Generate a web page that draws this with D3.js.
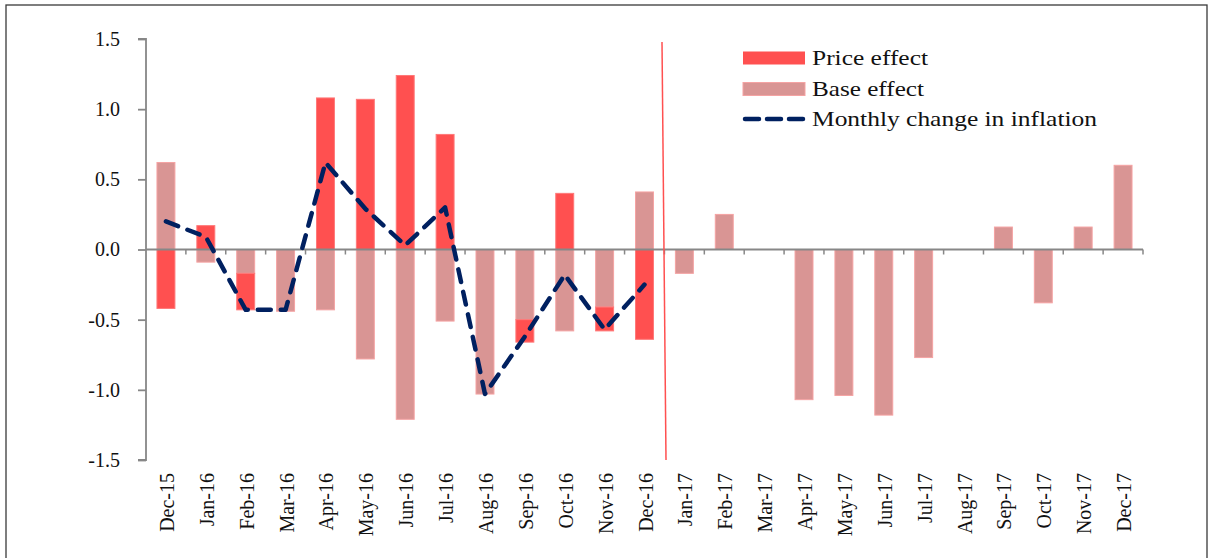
<!DOCTYPE html>
<html>
<head>
<meta charset="utf-8">
<script src="https://cdn.jsdelivr.net/npm/d3@7"></script>
<style>
  html, body { margin: 0; padding: 0; background: #fff; }
  svg { display: block; font-family: "Liberation Serif", "Times New Roman", serif; }
</style>
</head>
<body>
<svg id="chart" width="1210" height="558"></svg>
<script>
const categories = ["Dec-15","Jan-16","Feb-16","Mar-16","Apr-16","May-16","Jun-16","Jul-16","Aug-16","Sep-16","Oct-16","Nov-16","Dec-16",
  "Jan-17","Feb-17","Mar-17","Apr-17","May-17","Jun-17","Jul-17","Aug-17","Sep-17","Oct-17","Nov-17","Dec-17"];
const priceEffect = [-0.42, 0.17, -0.26, 0, 1.08, 1.07, 1.24, 0.82, 0, -0.16, 0.40, -0.17, -0.64,
  0, 0, 0, 0, 0, 0, 0, 0, 0, 0, 0, 0];
const baseEffect = [0.62, -0.09, -0.17, -0.44, -0.43, -0.78, -1.21, -0.51, -1.03, -0.50, -0.58, -0.41, 0.41,
  -0.17, 0.25, 0, -1.07, -1.04, -1.18, -0.77, 0, 0.16, -0.38, 0.16, 0.60];
const monthlyChange = [0.20, 0.09, -0.43, -0.43, 0.62, 0.29, 0.03, 0.30, -1.03, -0.62, -0.18, -0.57, -0.25];
const yTicks = [1.5, 1.0, 0.5, 0.0, -0.5, -1.0, -1.5];
const legendLabels = ["Price effect", "Base effect", "Monthly change in inflation"];

const svg = d3.select("#chart");

// outer frame
svg.append("rect").attr("x", 6).attr("y", 5).attr("width", 1201).attr("height", 600)
  .attr("fill", "none").attr("stroke", "#3a3a3a").attr("stroke-width", 1.3);

const x = d3.scaleBand().domain(categories).range([146, 1143]).padding(0);
const y = d3.scaleLinear().domain([-1.5, 1.5]).range([460, 39]);
const step = x.step();
const barW = step * 0.45;

const rows = categories.map((c, i) => ({ cat: c, base: baseEffect[i], price: priceEffect[i] }));
const stack = d3.stack().keys(["base", "price"]).offset(d3.stackOffsetDiverging)(rows);
const fills = { price: "#FF5050", base: "#D99594" };
const strokes = { price: "#FF7878", base: "#F5A3A3" };

stack.forEach(layer => {
  svg.append("g").selectAll("rect").data(layer).join("rect")
    .attr("x", d => x(d.data.cat) + (step - barW) / 2)
    .attr("width", barW)
    .attr("y", d => y(Math.max(d[0], d[1])))
    .attr("height", d => Math.abs(y(d[0]) - y(d[1])))
    .attr("fill", fills[layer.key])
    .attr("stroke", d => Math.abs(d[1] - d[0]) > 0 ? strokes[layer.key] : "none")
    .attr("stroke-width", 1);
});

// y axis
const yAxis = d3.axisLeft(y).tickValues(yTicks).tickSize(8).tickPadding(18)
  .tickFormat(d => d.toFixed(1));
const gy = svg.append("g").attr("transform", "translate(146,0)").call(yAxis);
gy.select(".domain").attr("stroke", "#878787").attr("stroke-width", 1.8).attr("d", `M-8,${y(1.5)}H0V${y(-1.5)}H-8`);
gy.selectAll(".tick line").attr("stroke", "#878787").attr("stroke-width", 1.8);
gy.selectAll(".tick text").attr("font-size", 20).attr("fill", "#111")
  .attr("font-family", "Liberation Serif, serif");

// x axis at zero with boundary ticks
const gx = svg.append("g");
gx.append("line").attr("x1", 146).attr("x2", 1143).attr("y1", y(0)).attr("y2", y(0))
  .attr("stroke", "#878787").attr("stroke-width", 1.8);
const bounds = categories.map(c => x(c)).concat([x(categories[categories.length - 1]) + step]);
gx.selectAll("line.t").data(bounds.slice(1)).join("line").attr("class", "t")
  .attr("x1", d => d).attr("x2", d => d).attr("y1", y(0)).attr("y2", y(0) + 5)
  .attr("stroke", "#878787").attr("stroke-width", 1.5);

// x labels at the bottom
svg.append("g").selectAll("text").data(categories).join("text")
  .attr("transform", d => `translate(${x(d) + step / 2 + 1},473) rotate(-90)`)
  .attr("text-anchor", "end").attr("dominant-baseline", "central")
  .attr("font-size", 20).attr("fill", "#111").text(d => d);

// vertical divider
svg.append("line").attr("x1", 662).attr("y1", 42).attr("x2", 666).attr("y2", 460)
  .attr("stroke", "#FF5050").attr("stroke-width", 1.5);

// dashed line
const line = d3.line().x((d, i) => x(categories[i]) + step / 2).y(d => y(d));
svg.append("path").datum(monthlyChange).attr("d", line)
  .attr("fill", "none").attr("stroke", "#002060").attr("stroke-width", 4.5)
  .attr("stroke-dasharray", "13,10").attr("stroke-linecap", "round").attr("stroke-linejoin", "round");

// legend
const lg = svg.append("g");
const lgY = [58, 89, 119];
const lgW = [116, 112, 285];
lg.append("rect").attr("x", 743).attr("y", lgY[0] - 6.5).attr("width", 62).attr("height", 13).attr("fill", fills.price);
lg.append("rect").attr("x", 743).attr("y", lgY[1] - 6.5).attr("width", 62).attr("height", 13)
  .attr("fill", fills.base).attr("stroke", strokes.base).attr("stroke-width", 1);
lg.append("line").attr("x1", 745).attr("x2", 803).attr("y1", lgY[2]).attr("y2", lgY[2])
  .attr("stroke", "#002060").attr("stroke-width", 4.5).attr("stroke-dasharray", "14,8").attr("stroke-linecap", "round");
legendLabels.forEach((t, i) => {
  lg.append("text").attr("x", 812).attr("y", lgY[i]).attr("dominant-baseline", "central")
    .attr("font-size", 21).attr("fill", "#111")
    .attr("textLength", lgW[i]).attr("lengthAdjust", "spacingAndGlyphs").text(t);
});
</script>
</body>
</html>
